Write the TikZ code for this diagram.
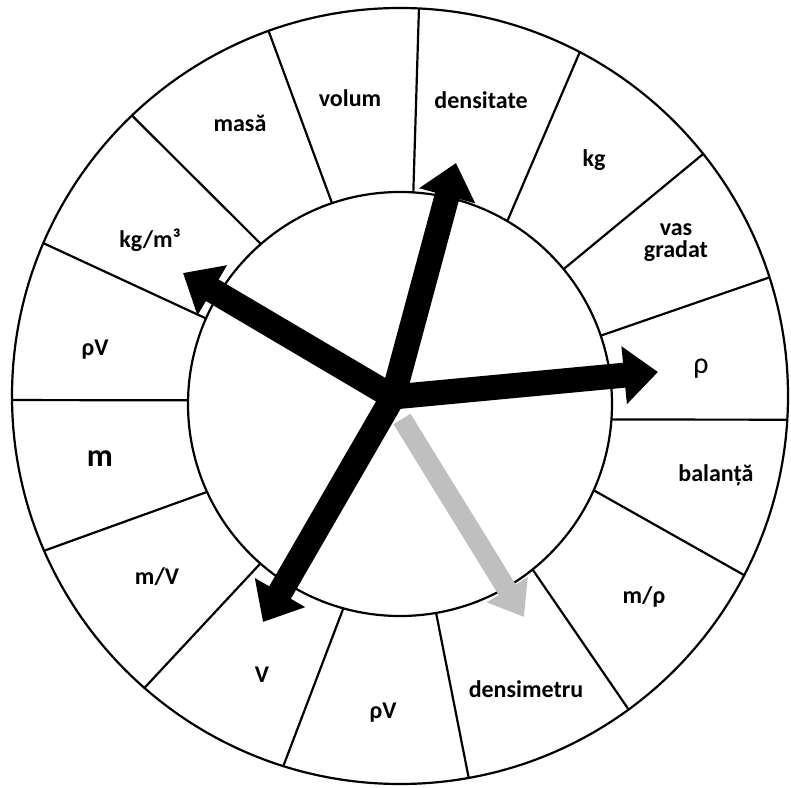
\documentclass[tikz,border=0pt]{standalone}
\usepackage{fontspec}
\setmainfont{Carlito}
\usetikzlibrary{arrows.meta}
\begin{document}
\begin{tikzpicture}[x=1pt,y=1pt,
  lbl/.style={font=\fontsize{24}{25}\selectfont\bfseries, align=center},
  divider/.style={line width=2.2pt},
  ptr/.style={line width=25pt, -{Triangle[length=34pt,width=56pt]}},
  gptr/.style={line width=20pt, draw=gray!50, -{Triangle[length=32pt,width=46pt]}},
]
\fill[white] (0,0) rectangle (791,787);
\useasboundingbox (0,0) rectangle (791,787);
\coordinate (oc) at (400,391);
\coordinate (ic) at (400,383);
\draw[divider] (oc) circle (388);
\draw[divider, fill=white] (ic) circle (212);
\foreach \a/\b in {86.4/87.2, 59.6/62.4, 39.5/38.6, 18.8/17.8, -4.2/-3.5,
  -24/-27.5, -51.3/-53.9, -80.2/-79.8, 254.5/252.5, 228.8/228.8,
  204.5/203.5, 179/180.6, 156.2/156.8, 131/133.7, 108.7/109.8}
  \draw[divider] ([shift={(\a:212)}]ic) -- ([shift={(\b:388)}]oc);
% labels
\node[lbl] (masa) at (240,664) {masă};
\node[lbl] (volum) at (350,689) {volum};
\node[lbl] (dens) at (481,687) {densitate};
\node[lbl] (kg) at (594,627) {kg};
\node[lbl] (vas) at (676,544) {vas\\[-3pt]gradat};
\node[font=\fontsize{30}{32}\selectfont] (rho) at (701,418) {ρ};
\node[lbl] (bal) at (716,312) {balanță};
\node[lbl] (mrho) at (644,190) {m/ρ};
\node[lbl] (densim) at (526,98) {densimetru};
\node[lbl] (rhoVb) at (383,74) {ρV};
\node[lbl] (V) at (262,112) {V};
\node[lbl] (mV) at (157,210) {m/V};
\node[lbl, font=\fontsize{32}{34}\selectfont\bfseries] (m) at (100,328) {m};
\node[lbl] (rhoVl) at (95,437) {ρV};
\node[lbl] (kgm) at (150,547) {kg/m³};
% arrows
\coordinate (c) at (393,390);
\coordinate (gs) at (402,368);
\coordinate (tg) at (524,170);
\coordinate (tu) at (456,624);
\coordinate (tr) at (658,415);
\coordinate (tl) at (183,514);
\coordinate (td) at (263,165);
\draw[gptr] (gs) -- (tg);
\draw[ptr] (c) -- (tu);
\draw[ptr] (c) -- (tr);
\draw[ptr] (c) -- (tl);
\draw[ptr] (c) -- (td);
\end{tikzpicture}
\end{document}
